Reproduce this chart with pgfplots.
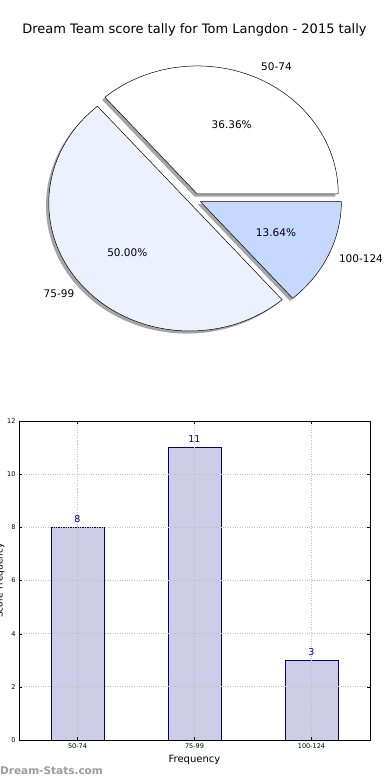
\documentclass[border=0pt]{standalone}
\usepackage{pgfplots}
\pgfplotsset{compat=1.18}
\usepackage{fontspec}
\setmainfont{DejaVu Sans}
\definecolor{barfill}{RGB}{204,204,230}
\definecolor{baredge}{RGB}{0,0,128}
\definecolor{wedgeA}{RGB}{255,255,255}
\definecolor{wedgeB}{RGB}{235,241,255}
\definecolor{wedgeC}{RGB}{197,217,255}
\definecolor{wmark}{RGB}{155,155,155}
% data: tallies per score band
\def\vA{8}\def\vB{11}\def\vC{3}
\pgfmathsetmacro\tot{\vA+\vB+\vC}
\pgfmathsetmacro\aA{360*\vA/\tot}
\pgfmathsetmacro\aB{360*(\vA+\vB)/\tot}
\pgfmathsetmacro\mA{\aA/2}
\pgfmathsetmacro\mB{(\aA+\aB)/2}
\pgfmathsetmacro\mC{(\aB+360)/2}
\newcommand\wedgeshadow[3]{% start, end, mid
  \fill[black!70, opacity=0.5] (axis cs:194.6,-199.2) ++(#3:6.35pt and 5.76pt) ++(-2.8pt,-2.6pt)
    -- ++(#1:141pt and 128pt) arc[start angle=#1, end angle=#2, x radius=141pt, y radius=128pt] -- cycle;}
\newcommand\wedgepiece[4]{% start, end, mid, colour
  \filldraw[fill=#4, draw=black, line width=0.5pt] (axis cs:194.6,-199.2) ++(#3:6.35pt and 5.76pt)
    -- ++(#1:141pt and 128pt) arc[start angle=#1, end angle=#2, x radius=141pt, y radius=128pt] -- cycle;}
\begin{document}
\begin{tikzpicture}[x=1pt,y=1pt]
\begin{axis}[at={(0pt,380pt)}, anchor=south west, scale only axis, width=390pt, height=400pt,
  xmin=0, xmax=390, ymin=-400, ymax=0, hide axis, clip=false]
\wedgeshadow{0}{\aA}{\mA}
\wedgeshadow{\aA}{\aB}{\mB}
\wedgeshadow{\aB}{360}{\mC}
\wedgepiece{0}{\aA}{\mA}{wedgeA}
\wedgepiece{\aA}{\aB}{\mB}{wedgeB}
\wedgepiece{\aB}{360}{\mC}{wedgeC}
\node[font=\fontsize{13}{15}\selectfont] at (axis cs:194.5,-30) {Dream Team score tally for Tom Langdon - 2015 tally};
\begin{scope}[every node/.style={font=\fontsize{10.5}{12}\selectfont}]
\node at (axis cs:276.5,-66.5) {50-74};
\node at (axis cs:231.7,-124.5) {36.36\%};
\node at (axis cs:59,-293.5) {75-99};
\node at (axis cs:127.3,-252.8) {50.00\%};
\node at (axis cs:276,-232.8) {13.64\%};
\node at (axis cs:361,-258.5) {100-124};
\end{scope}
\end{axis}
\begin{axis}[at={(19pt,40pt)}, anchor=south west, scale only axis, width=351pt, height=319pt,
  xmin=-0.5, xmax=2.5, ymin=0, ymax=12, ytick={0,2,...,12}, xtick={0,1,2},
  xticklabels={50-74,75-99,100-124},
  grid=major, grid style={dotted, gray!50, line width=0.7pt},
  axis on top, axis line style={line width=0.8pt},
  tick label style={font=\fontsize{6.5}{7}\selectfont},
  /pgf/number format/assume math mode=true,
  tick align=inside, major tick length=3pt, tick style={black},
  xlabel={Frequency},
  xlabel style={font=\fontsize{10}{12}\selectfont, at={(axis description cs:0.5,0)}, anchor=center, yshift=-20pt},
  nodes near coords, nodes near coords style={font=\fontsize{9.5}{10}\selectfont, text=baredge, yshift=1pt},
]
\addplot[ybar, bar width=0.45, fill=barfill, draw=baredge, line width=0.6pt] coordinates {(0,8) (1,11) (2,3)};
\end{axis}
\node[font=\fontsize{9}{10}\selectfont, rotate=90, anchor=base] at (2.5,199.5) {Score Frequency};
\node[font=\bfseries\fontsize{10.5}{12}\selectfont, text=wmark, anchor=west, inner sep=0pt] at (0,9) {Dream-Stats.com};
\pgfresetboundingbox
\path[use as bounding box] (0,0) rectangle (390,780);
\end{tikzpicture}
\end{document}
